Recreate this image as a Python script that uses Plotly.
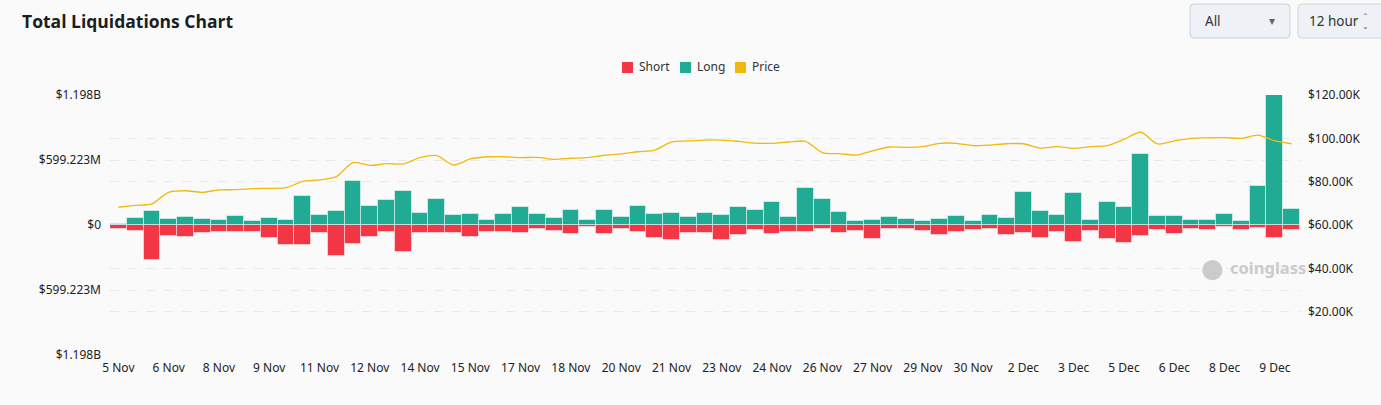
import pandas as pd
import plotly.graph_objects as go

# 12-hour buckets, 5 Nov -> 9 Dec
times = pd.date_range("2024-11-05 00:00", periods=71, freq="12h")
x_cats = list(times.strftime("%Y-%m-%d %H:%M"))

tick_labels = ["5 Nov", "6 Nov", "8 Nov", "9 Nov", "11 Nov", "12 Nov", "14 Nov", "15 Nov",
               "17 Nov", "18 Nov", "20 Nov", "21 Nov", "23 Nov", "24 Nov", "26 Nov", "27 Nov",
               "29 Nov", "30 Nov", "2 Dec", "3 Dec", "5 Dec", "6 Dec", "8 Dec", "9 Dec"]

# liquidations, millions USD
long_m = [12, 61, 132, 55, 74, 52, 49, 80, 34, 61, 49, 267, 95, 126, 403, 175, 234, 310,
          111, 237, 92, 101, 43, 104, 163, 101, 61, 138, 46, 135, 71, 172, 104, 111, 71,
          111, 92, 166, 135, 215, 71, 344, 237, 120, 37, 46, 77, 55, 40, 58, 86, 34, 92,
          61, 304, 132, 89, 295, 49, 209, 166, 652, 83, 83, 46, 43, 98, 34, 357, 1198, 147]
short_m = [40, 52, 320, 101, 114, 71, 65, 61, 61, 123, 184, 187, 74, 289, 175, 111, 68, 252,
           71, 71, 77, 114, 65, 61, 77, 37, 52, 80, 21, 86, 34, 61, 117, 135, 71,
           77, 135, 89, 49, 86, 65, 68, 37, 71, 52, 126, 37, 40, 58, 92, 61, 49, 37,
           95, 71, 117, 61, 157, 58, 129, 169, 104, 46, 83, 34, 46, 21, 46, 31, 117, 43]
# BTC price, thousands USD
price_k = [68.2, 69.1, 69.8, 75.1, 75.8, 75.1, 76.2, 76.3, 76.8, 76.9, 77.2, 80.1, 80.8, 82.3,
           88.8, 87.5, 88.3, 88.2, 91.1, 92.0, 87.7, 90.5, 91.5, 91.5, 91.1, 91.2, 90.3, 90.8,
           91.1, 92.2, 92.8, 93.8, 94.6, 98.3, 98.8, 99.2, 99.2, 98.6, 97.8, 97.7, 98.3, 98.6,
           93.4, 92.9, 92.3, 94.2, 96.0, 95.8, 96.2, 97.7, 97.7, 96.6, 96.9, 97.5, 97.5, 95.5,
           96.2, 95.4, 96.2, 96.6, 99.5, 102.8, 97.4, 98.8, 100.0, 100.2, 100.3, 100.0, 101.5,
           98.8, 97.5]

left_max = 1198446000
left_ticks = [-left_max, -left_max / 2, 0, left_max / 2, left_max]
left_text = ["$1.198B", "$599.223M", "$0", "$599.223M", "$1.198B"]
right_ticks = [20000, 40000, 60000, 80000, 100000, 120000]
right_text = ["$20.00K", "$40.00K", "$60.00K", "$80.00K", "$100.00K", "$120.00K"]

RED = "#f23645"
GREEN = "#22ab94"
YELLOW = "#f0b90b"
BG = "#fafafa"
FONT = "Noto Sans"

fig = go.Figure()
bar_line = dict(color="rgba(255,255,255,0.5)", width=1)
fig.add_trace(go.Bar(x=x_cats, y=[-v * 1e6 for v in short_m], name="Short",
                     marker=dict(color=RED, line=bar_line)))
fig.add_trace(go.Bar(x=x_cats, y=[v * 1e6 for v in long_m], name="Long",
                     marker=dict(color=GREEN, line=bar_line)))
fig.add_trace(go.Scatter(x=x_cats, y=[v * 1000 for v in price_k], name="Price", yaxis="y2",
                         mode="lines", line=dict(color=YELLOW, width=1.3, shape="spline",
                                                 smoothing=0.8)))

grid = dict(showgrid=True, gridcolor="#e9e9e9", griddash="dash", gridwidth=1, zeroline=False)

fig.update_layout(
    width=1381, height=405,
    barmode="relative", bargap=0,
    paper_bgcolor=BG, plot_bgcolor=BG,
    margin=dict(l=110, r=81, t=95, b=50),
    font=dict(family=FONT, size=12, color="#222"),
    title=dict(text="<b>Total Liquidations Chart</b>", x=22 / 1381, xanchor="left",
               y=1 - 22 / 405, yanchor="middle",
               font=dict(family="Open Sans", size=17.5, color="#1a1d21")),
    showlegend=False,
    xaxis=dict(type="category", tickmode="array", tickvals=x_cats[::3], ticktext=tick_labels,
               showgrid=False, showline=False, ticks="", ticklabelstandoff=4,
               tickfont=dict(size=12, color="#222")),
    yaxis=dict(range=[-left_max, left_max], tickmode="array", tickvals=left_ticks,
               ticktext=left_text, ticks="", ticklabelstandoff=8,
               tickfont=dict(size=12, color="#222"), **grid),
    yaxis2=dict(overlaying="y", side="right", range=[0, 120000], tickmode="array",
                tickvals=right_ticks, ticktext=right_text, ticks="", ticklabelstandoff=7,
                tickfont=dict(size=12, color="#222"), **grid),
)


def px_x(p):
    return (p - 110) / 1190


def px_y(p):
    return (355 - p) / 260


def rounded_box(x0, y0, x1, y1, r=4):
    rx, ry = r / 1190, r / 260
    a, b, c, d = px_x(x0), px_x(x1), px_y(y0), px_y(y1)
    return (f"M {a + rx},{c} L {b - rx},{c} Q {b},{c} {b},{c - ry} L {b},{d + ry} "
            f"Q {b},{d} {b - rx},{d} L {a + rx},{d} Q {a},{d} {a},{d + ry} "
            f"L {a},{c - ry} Q {a},{c} {a + rx},{c} Z")


def note(text, xp, yp, size, color, anchor="left", family=FONT):
    fig.add_annotation(text=text, x=px_x(xp), y=px_y(yp), xref="paper", yref="paper",
                       xanchor=anchor, yanchor="middle", showarrow=False,
                       font=dict(family=family, size=size, color=color))


# compact legend: square swatch + label, as in the original
for label, color, sx in [("Short", RED, 622), ("Long", GREEN, 680), ("Price", YELLOW, 735)]:
    fig.add_shape(type="rect", xref="paper", yref="paper",
                  x0=px_x(sx), x1=px_x(sx + 11), y0=px_y(73), y1=px_y(62),
                  fillcolor=color, line=dict(width=0))
    note(label, sx + 15, 67, 12, "#333")

# top-right selectors
for box, border in [((1190, 4, 1290, 38), "#c3d3e6"), ((1298, 4, 1386, 38), "#cfd5dc")]:
    fig.add_shape(type="path", path=rounded_box(*box), xref="paper", yref="paper",
                  fillcolor="#eef2f6", line=dict(color=border, width=1), layer="above")
note("All", 1203, 21, 13.5, "#333")
note("▾", 1272, 21, 12, "#666", "center")
note("12 hour", 1307, 21, 13.5, "#333")
note("⌃<br>⌄", 1365, 21, 8, "#666", "center")

# watermark
note("<b>coinglass</b>", 1228, 267, 16.5, "#cbcbcb")
note("●", 1212, 268, 26, "#cbcbcb", "center", "DejaVu Sans")

fig.write_html("out.html", config={"displayModeBar": False},
               post_script="document.body.style.margin='0';")
